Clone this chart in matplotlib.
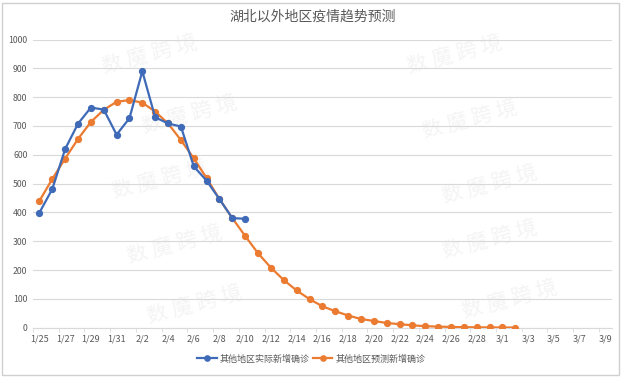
import numpy as np
import pandas as pd
import matplotlib.pyplot as plt
from matplotlib.patches import Rectangle

plt.rcParams['font.family'] = ['Noto Sans CJK SC', 'DejaVu Sans']

# Categories: every day from 1/25 to 3/9 (2020)
dates = pd.date_range("2020-01-25", "2020-03-09", freq="D")
date_labels = [f"{d.month}/{d.day}" for d in dates]

# Actual new confirmed cases outside Hubei (1/25 - 2/10)
actual = [399, 481, 620, 708, 764, 757, 670, 727, 890, 730, 709, 698,
          560, 510, 446, 380, 378]

# Predicted new confirmed cases outside Hubei (1/25 - 3/2)
predicted = [440, 516, 587, 655, 714, 756, 784, 790, 781, 750, 709, 651,
             588, 519, 446, 380, 318, 258, 208, 165, 129, 99, 74, 57,
             42, 30, 23, 16, 12, 8, 5, 3.5, 2.3, 1.5, 1, 0.7, 0.5, 0.3]

title = "湖北以外地区疫情趋势预测"
name_actual = "其他地区实际新增确诊"
name_pred = "其他地区预测新增确诊"
watermark = "数 魔 跨 境"

blue = "#3F6AB8"
orange = "#EB7B30"
grey_text = "#595959"
grid_col = "#D9D9D9"

fig = plt.figure(figsize=(6.25, 3.77), dpi=100)
ax = fig.add_axes([0.0528, 0.131, 0.926, 0.764])
ax.set_zorder(2)

# faint watermark tiles
wm_pos = [(150, 55), (455, 55), (190, 115), (470, 120), (160, 180), (490, 185),
          (175, 245), (490, 240), (195, 305), (510, 300)]
for (px, py) in wm_pos:
    fig.text(px / 625, 1 - py / 377, watermark, fontsize=15, color="#F4F4F4",
             rotation=15, ha="center", va="center", zorder=0)

x_act = np.arange(len(actual))
x_pred = np.arange(len(predicted))
ax.plot(x_pred, predicted, color=orange, lw=1.6, marker="o", ms=4.2,
        label=name_pred, zorder=3)
ax.plot(x_act, actual, color=blue, lw=1.6, marker="o", ms=4.2,
        label=name_actual, zorder=4)

ax.set_xlim(-0.5, len(dates) - 0.5)
ax.set_ylim(0, 1000)
ax.set_yticks(np.arange(0, 1001, 100))
ax.set_xticks(np.arange(0, len(dates), 2))
ax.set_xticklabels(date_labels[::2])
ax.set_xticks(np.arange(-0.5, len(dates), 2), minor=True)
ax.tick_params(axis="x", which="major", length=0, labelsize=6.5,
               colors=grey_text, pad=5)
ax.tick_params(axis="x", which="minor", length=3, color=grid_col)
ax.tick_params(axis="y", length=0, labelsize=6.3, colors=grey_text, pad=4)

ax.grid(axis="y", color=grid_col, lw=0.8)
ax.set_axisbelow(True)
for s in ["top", "right", "left"]:
    ax.spines[s].set_visible(False)
ax.spines["bottom"].set_color(grid_col)
ax.patch.set_alpha(0)

fig.text(0.5, 1 - 17 / 377, title, ha="center", va="center",
         fontsize=10, color=grey_text)

handles, labels = ax.get_legend_handles_labels()
fig.legend(handles[::-1], labels[::-1], loc="center", ncol=2,
           bbox_to_anchor=(0.498, 1 - 359 / 377), frameon=False,
           fontsize=6.5, labelcolor=grey_text, handlelength=2.2,
           handletextpad=0.3, columnspacing=0.3, markerscale=0.9)

# chart border
fig.patches.append(Rectangle((2 / 625, 2 / 377), 617 / 625, 372 / 377,
                             transform=fig.transFigure, fill=False,
                             edgecolor="#D0D0D0", lw=1))

fig.savefig("out.png", dpi=100)
